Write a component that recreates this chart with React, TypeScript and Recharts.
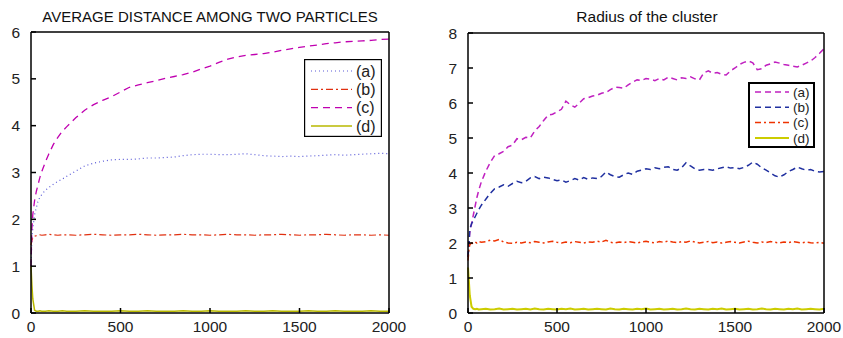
import { LineChart, Line, XAxis, YAxis } from 'recharts';

// ---- left panel: average distance among two particles ----
const leftTime = [0, 5, 10, 20, 30, 40, 50, 60, 80, 100, 125, 150, 175, 200, 250, 300, 350, 400, 450, 500, 550, 600, 650, 700, 750, 800, 850, 900, 950, 1000, 1050, 1100, 1150, 1200, 1250, 1300, 1350, 1400, 1450, 1500, 1550, 1600, 1650, 1700, 1750, 1800, 1850, 1900, 1950, 2000];
const leftA = [1.0, 1.55, 1.8, 2.1, 2.25, 2.4, 2.47, 2.53, 2.62, 2.68, 2.75, 2.81, 2.86, 2.92, 3.03, 3.14, 3.2, 3.24, 3.27, 3.28, 3.28, 3.29, 3.31, 3.31, 3.32, 3.33, 3.36, 3.38, 3.39, 3.39, 3.38, 3.38, 3.39, 3.4, 3.38, 3.36, 3.35, 3.34, 3.35, 3.34, 3.35, 3.36, 3.37, 3.38, 3.37, 3.38, 3.39, 3.4, 3.41, 3.4];
const leftB = [1.45, 1.55, 1.6, 1.64, 1.65, 1.66, 1.67, 1.66, 1.67, 1.68, 1.67, 1.66, 1.67, 1.67, 1.66, 1.67, 1.68, 1.67, 1.66, 1.67, 1.67, 1.68, 1.67, 1.66, 1.67, 1.67, 1.68, 1.67, 1.67, 1.66, 1.67, 1.68, 1.67, 1.67, 1.66, 1.67, 1.67, 1.68, 1.67, 1.66, 1.67, 1.67, 1.68, 1.67, 1.66, 1.67, 1.67, 1.66, 1.67, 1.66];
const leftC = [1.0, 1.8, 2.1, 2.4, 2.6, 2.75, 2.9, 3.02, 3.22, 3.4, 3.6, 3.75, 3.88, 3.98, 4.17, 4.33, 4.45, 4.54, 4.62, 4.72, 4.82, 4.87, 4.92, 4.96, 5.01, 5.05, 5.09, 5.14, 5.21, 5.27, 5.35, 5.42, 5.47, 5.5, 5.52, 5.54, 5.57, 5.61, 5.64, 5.67, 5.7, 5.72, 5.75, 5.77, 5.79, 5.8, 5.81, 5.82, 5.84, 5.85];
const leftD = [1.0, 0.6, 0.3, 0.06, 0.04, 0.04, 0.05, 0.04, 0.04, 0.05, 0.04, 0.04, 0.05, 0.04, 0.04, 0.05, 0.04, 0.04, 0.04, 0.05, 0.04, 0.04, 0.05, 0.04, 0.04, 0.04, 0.05, 0.04, 0.04, 0.05, 0.04, 0.04, 0.04, 0.05, 0.04, 0.04, 0.05, 0.04, 0.04, 0.04, 0.05, 0.04, 0.04, 0.05, 0.04, 0.04, 0.04, 0.05, 0.04, 0.04];

// ---- right panel: radius of the cluster ----
const rightTime = [0, 5, 10, 20, 30, 40, 50, 60, 75, 100, 125, 150, 175, 200, 225, 250, 275, 300, 325, 350, 375, 400, 425, 450, 475, 500, 525, 550, 575, 600, 625, 650, 675, 700, 725, 750, 775, 800, 825, 850, 875, 900, 925, 950, 975, 1000, 1025, 1050, 1075, 1100, 1125, 1150, 1175, 1200, 1225, 1250, 1275, 1300, 1325, 1350, 1375, 1400, 1425, 1450, 1475, 1500, 1525, 1550, 1575, 1600, 1625, 1650, 1675, 1700, 1725, 1750, 1775, 1800, 1825, 1850, 1875, 1900, 1925, 1950, 1975, 2000];
const rightA = [1.6, 2.0, 2.3, 2.55, 2.8, 3.05, 3.3, 3.5, 3.75, 4.05, 4.3, 4.5, 4.55, 4.62, 4.75, 4.8, 4.98, 4.95, 5.02, 5.0, 5.2, 5.33, 5.5, 5.65, 5.68, 5.75, 5.82, 6.05, 5.95, 5.88, 6.0, 6.12, 6.15, 6.2, 6.22, 6.28, 6.3, 6.38, 6.45, 6.44, 6.42, 6.52, 6.6, 6.66, 6.64, 6.7, 6.68, 6.64, 6.7, 6.66, 6.74, 6.7, 6.66, 6.72, 6.7, 6.75, 6.69, 6.66, 6.86, 6.92, 6.85, 6.87, 6.82, 6.8, 6.92, 7.0, 7.1, 7.16, 7.2, 7.15, 6.95, 6.98, 7.08, 7.12, 7.17, 7.14, 7.1, 7.08, 7.05, 7.03, 7.08, 7.14, 7.2, 7.3, 7.42, 7.55];
const rightB = [1.6, 1.9, 2.4, 2.55, 2.65, 2.75, 2.85, 2.95, 3.08, 3.25, 3.42, 3.55, 3.6, 3.66, 3.62, 3.7, 3.76, 3.72, 3.76, 3.86, 3.9, 3.84, 3.88, 3.86, 3.82, 3.78, 3.8, 3.74, 3.78, 3.84, 3.8, 3.87, 3.82, 3.86, 3.84, 3.9, 4.03, 3.95, 3.9, 3.88, 3.95, 4.0, 3.96, 4.05, 4.08, 4.12, 4.1, 4.15, 4.12, 4.16, 4.18, 4.1, 4.08, 4.15, 4.29, 4.2, 4.12, 4.08, 4.1, 4.1, 4.08, 4.12, 4.15, 4.18, 4.14, 4.15, 4.12, 4.16, 4.22, 4.31, 4.25, 4.15, 4.08, 4.0, 3.92, 3.88, 3.95, 4.04, 4.1, 4.17, 4.12, 4.08, 4.1, 4.05, 4.03, 4.04];
const rightC = [1.5, 1.8, 1.95, 2.0, 1.98, 2.03, 2.0, 2.04, 2.02, 2.04, 2.08, 2.06, 2.1, 2.03, 2.0, 1.99, 2.02, 2.0, 2.03, 2.01, 2.04, 2.02, 2.0, 2.03, 2.05, 2.02, 2.0, 2.03, 2.01, 2.04, 2.02, 2.0, 2.03, 2.02, 2.05, 2.03, 2.08, 2.02, 2.0, 2.03, 2.01, 2.04, 2.02, 2.0, 2.03, 2.05, 2.02, 2.0, 2.04, 2.02, 2.06, 2.03, 2.01, 2.04, 2.02, 2.06, 2.03, 2.0, 2.02, 2.04, 2.01, 2.03, 2.0, 2.02, 2.04, 2.02, 2.0, 2.03, 2.05, 2.02, 2.0, 2.03, 2.01, 2.04, 2.02, 2.0, 2.03, 2.01, 2.04, 2.02, 2.0, 2.03, 2.01, 2.0, 2.02, 1.99];
const rightD = [1.3, 0.9, 0.5, 0.18, 0.12, 0.11, 0.12, 0.1, 0.11, 0.12, 0.1, 0.11, 0.13, 0.1, 0.11, 0.12, 0.1, 0.11, 0.12, 0.1, 0.13, 0.11, 0.1, 0.12, 0.11, 0.1, 0.12, 0.11, 0.13, 0.1, 0.11, 0.12, 0.1, 0.11, 0.12, 0.11, 0.1, 0.13, 0.11, 0.1, 0.12, 0.11, 0.1, 0.12, 0.11, 0.13, 0.1, 0.11, 0.12, 0.1, 0.11, 0.12, 0.1, 0.11, 0.13, 0.11, 0.1, 0.12, 0.11, 0.1, 0.12, 0.11, 0.13, 0.1, 0.11, 0.12, 0.1, 0.11, 0.12, 0.1, 0.11, 0.13, 0.11, 0.1, 0.12, 0.11, 0.1, 0.12, 0.11, 0.13, 0.1, 0.11, 0.12, 0.11, 0.1, 0.12];

const xTicks = [0, 500, 1000, 1500, 2000];
const leftYTicks = [0, 1, 2, 3, 4, 5, 6];
const rightYTicks = [0, 1, 2, 3, 4, 5, 6, 7, 8];
const legendLabels = ['(a)', '(b)', '(c)', '(d)'];

const FONT = '"Liberation Sans", Arial, sans-serif';
const tickStyle = { fill: '#222', fontSize: 15.5, fontFamily: FONT };

const leftData = leftTime.map((t, i) => ({ t, a: leftA[i], b: leftB[i], c: leftC[i], d: leftD[i] }));
const rightData = rightTime.map((t, i) => ({ t, a: rightA[i], b: rightB[i], c: rightC[i], d: rightD[i] }));

type Style = { color: string; dash?: string; width: number };

const leftStyles: Style[] = [
  { color: '#5a5ad8', dash: '1 3', width: 1.2 },
  { color: '#e03010', dash: '7 3 2 3', width: 1.2 },
  { color: '#c000b0', dash: '7 5', width: 1.3 },
  { color: '#b8b800', width: 1.5 },
];
const rightStyles: Style[] = [
  { color: '#c020c0', dash: '6 4', width: 1.5 },
  { color: '#2030a0', dash: '6 4', width: 1.5 },
  { color: '#ee3300', dash: '6 3 2 3', width: 1.5 },
  { color: '#cccc00', width: 2 },
];

function LegendBox({ styles, left, top, width, height, rowGap, firstRow, lineLen, border, fontSize }: {
  styles: Style[]; left: number; top: number; width: number; height: number; rowGap: number;
  firstRow: number; lineLen: number; border: number; fontSize: number;
}) {
  return (
    <svg style={{ position: 'absolute', left, top }} width={width} height={height}>
      <rect x={border / 2} y={border / 2} width={width - border} height={height - border} fill="#fff" stroke="#000" strokeWidth={border} />
      {styles.map((s, i) => {
        const y = firstRow + i * rowGap;
        return (
          <g key={i}>
            <line x1={7} x2={7 + lineLen} y1={y} y2={y} stroke={s.color} strokeWidth={s.width} strokeDasharray={s.dash} />
            <text x={lineLen + 11} y={y} dy="0.35em" fontSize={fontSize} fontFamily={FONT} fill="#222">{legendLabels[i]}</text>
          </g>
        );
      })}
    </svg>
  );
}

function Panel({ data, styles, width, yTicks, yMax, leftW, rightW, top }: {
  data: typeof leftData; styles: Style[]; width: number; yTicks: number[]; yMax: number;
  leftW: number; rightW: number; top: number;
}) {
  const keys = ['a', 'b', 'c', 'd'];
  return (
    <LineChart width={width} height={338} data={data} margin={{ top: 0, right: 0, bottom: 0, left: 0 }}>
      <XAxis dataKey="t" type="number" domain={[0, 2000]} ticks={xTicks} height={25} tickSize={-5} tickMargin={13}
        tick={tickStyle} stroke="#000" strokeWidth={1.5} interval={0} />
      <XAxis xAxisId="top" orientation="top" dataKey="t" type="number" domain={[0, 2000]} ticks={xTicks} height={top}
        tickSize={-5} tick={false} stroke="#000" strokeWidth={1.5} />
      <YAxis type="number" domain={[0, yMax]} ticks={yTicks} width={leftW} tickSize={-5} tickMargin={16}
        tick={tickStyle} stroke="#000" strokeWidth={1.5} interval={0} allowDataOverflow />
      <YAxis yAxisId="right" orientation="right" type="number" domain={[0, yMax]} ticks={yTicks} width={rightW}
        tickSize={-5} tick={false} stroke="#000" strokeWidth={1.5} />
      {keys.map((k, i) => (
        <Line key={k} dataKey={k} type="linear" dot={false} stroke={styles[i].color} strokeWidth={styles[i].width}
          strokeDasharray={styles[i].dash} isAnimationActive={false} />
      ))}
    </LineChart>
  );
}

export default function App() {
  return (
    <div style={{ position: 'absolute', left: 0, top: 0, width: 843, height: 338, background: '#fff', fontFamily: FONT }}>
      <div style={{ position: 'absolute', left: 0, top: 0 }}>
        <Panel data={leftData} styles={leftStyles} width={420} yTicks={leftYTicks} yMax={6} leftW={31} rightW={31} top={32} />
      </div>
      <div style={{ position: 'absolute', left: 420, top: 0 }}>
        <Panel data={rightData} styles={rightStyles} width={423} yTicks={rightYTicks} yMax={8} leftW={48} rightW={19} top={33} />
      </div>
      <div style={{ position: 'absolute', left: 0, width: 420, top: 8, textAlign: 'center', fontSize: 15, color: '#111' }}>
        AVERAGE DISTANCE AMONG TWO PARTICLES
      </div>
      <div style={{ position: 'absolute', left: 420, width: 454, top: 8, textAlign: 'center', fontSize: 15.5, color: '#111' }}>
        Radius of the cluster
      </div>
      <LegendBox styles={leftStyles} left={304} top={59} width={78} height={78} rowGap={18.3} firstRow={12} lineLen={41} border={1.2} fontSize={16} />
      <LegendBox styles={rightStyles} left={748} top={82} width={67} height={66} rowGap={15.3} firstRow={10} lineLen={34} border={2} fontSize={13.5} />
    </div>
  );
}
